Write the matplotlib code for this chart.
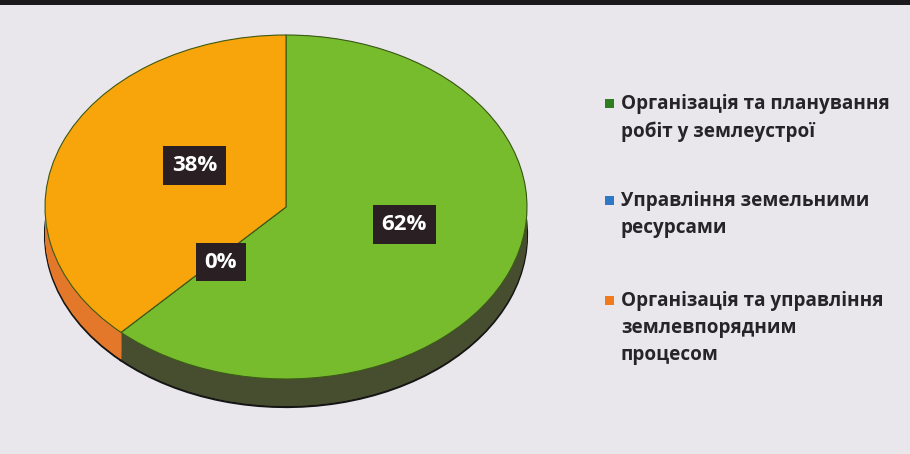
import matplotlib
matplotlib.use("Agg")
import matplotlib.pyplot as plt
from matplotlib.patches import Rectangle
import numpy as np

plt.rcParams['font.family'] = ['Open Sans', 'DejaVu Sans']

# ---- data ----
categories = [
    "Організація та планування\nробіт у землеустрої",
    "Управління земельними\nресурсами",
    "Організація та управління\nземлевпорядним\nпроцесом",
]
values = [62, 0, 38]
pct_labels = ["62%", "0%", "38%"]
top_colors = ["#76bc2d", "#2f78c4", "#f8a50c"]
side_colors = ["#474d2f", "#1f4f86", "#e4782a"]
legend_colors = ["#2e7d1e", "#2f78c4", "#f07a1c"]

W, H = 910, 454
fig = plt.figure(figsize=(W / 100, H / 100), dpi=100)
fig.patch.set_facecolor("#e9e7eb")
# dark strip at top of the photo
fig.patches.append(Rectangle((0, 1 - 5 / H), 1, 5 / H, transform=fig.transFigure,
                             facecolor="#1c1a1c", edgecolor="none"))

# pie geometry in pixels
cx, cy, rx, ry, depth = 286, 207, 241, 172, 28
d = depth / ry
left = (cx - rx) / W
top = cy - ry
bottom_px = cy + ry + depth
ax = fig.add_axes([left, (H - bottom_px) / H, 2 * rx / W, (bottom_px - top) / H])
ax.set_facecolor("none")

# extruded side: stacked pies
nlayers = 30
for i, off in enumerate(np.linspace(d, 0.0, nlayers)):
    ec = "#151515" if i == 0 else "none"
    ax.pie(values, colors=side_colors, startangle=90, counterclock=False,
           center=(0, -off), radius=1.0,
           wedgeprops=dict(linewidth=1.6 if i == 0 else 0, edgecolor=ec))
# top face
ax.pie(values, colors=top_colors, startangle=90, counterclock=False,
       center=(0, 0), radius=1.0,
       wedgeprops=dict(linewidth=0.8, edgecolor="#3c5a18"))
ax.set_aspect("auto")
ax.set_xlim(-1, 1)
ax.set_ylim(-1 - d, 1)
ax.axis("off")

# percentage labels (data coordinates of the top face)
label_pos = [(0.49, -0.10), (-0.27, -0.32), (-0.38, 0.24)]
for (x, y), t in zip(label_pos, pct_labels):
    ax.text(x, y, t, ha="center", va="center", color="white", fontsize=16,
            fontweight="bold",
            bbox=dict(boxstyle="square,pad=0.4", facecolor="#2a2024", edgecolor="none"))

# legend (manual)
entry_tops = [103, 200, 300]
for lab, col, ty in zip(categories, legend_colors, entry_tops):
    fig.patches.append(Rectangle((605 / W, 1 - (ty + 5) / H), 9 / W, 9 / H,
                                 transform=fig.transFigure, facecolor=col,
                                 edgecolor="none"))
    fig.text(621 / W, 1 - (ty - 9) / H, lab, ha="left", va="top",
             fontsize=13.6, fontweight="bold", color="#262426",
             linespacing=1.47)

fig.savefig("out.png", dpi=100, facecolor=fig.get_facecolor())
